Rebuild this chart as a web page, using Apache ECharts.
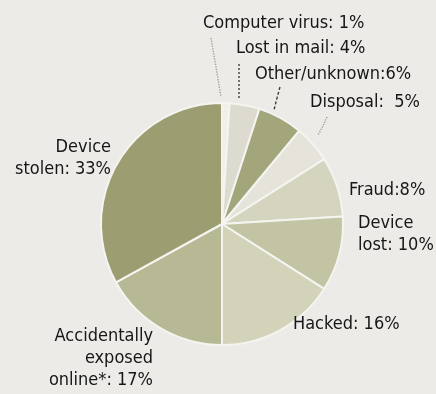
<!DOCTYPE html>
<html>
<head>
<meta charset="utf-8">
<script src="https://cdn.jsdelivr.net/npm/echarts@6/dist/echarts.min.js"></script>
<style>
html,body{margin:0;padding:0;background:#ecebe8;}
#chart{width:436px;height:394px;}
</style>
</head>
<body>
<div id="chart"></div>
<script>
// Data (clockwise from 12 o'clock)
var categories = ['Computer virus', 'Lost in mail', 'Other/unknown', 'Disposal', 'Fraud', 'Device\nlost', 'Hacked', 'Accidentally\nexposed\nonline*', 'Device\nstolen'];
var values = [1, 4, 6, 5, 8, 10, 16, 17, 33];
var separators = [': ', ': ', ':', ':  ', ':', ': ', ': ', ': ', ': '];

// Styling / layout (not data)
var colors = ['#f1efe9', '#dddbcf', '#a3a57b', '#e6e4da', '#d5d5bf', '#c3c4a3', '#d3d3b9', '#b6b994', '#9c9e72'];
var labelLayoutCfg = [
  {x: 203, y: 23, align: 'left', line: [[211, 38], [216, 67], [221, 97]], lineColor: '#9a9a9a', lineType: 'dotted'},
  {x: 236, y: 48, align: 'left', line: [[239, 64], [239, 80], [239, 99]], lineColor: '#333', lineType: [2, 2]},
  {x: 255, y: 74, align: 'left', line: [[280, 87], [277, 98], [274, 110]], lineColor: '#333', lineType: [3, 2]},
  {x: 310, y: 102, align: 'left', line: [[327, 117], [323, 126], [318, 135]], lineColor: '#9a9a9a', lineType: 'dotted'},
  {x: 349, y: 190, align: 'left'},
  {x: 358, y: 234, align: 'left'},
  {x: 293, y: 324, align: 'left'},
  {x: 153, y: 358, align: 'right'},
  {x: 111, y: 158, align: 'right'}
];

var seriesData = categories.map(function (c, i) {
  var cfg = labelLayoutCfg[i];
  return {
    name: c,
    value: values[i],
    itemStyle: {color: colors[i]},
    labelLine: cfg.line ? {show: true, lineStyle: {color: cfg.lineColor, type: cfg.lineType, width: 1.3}} : {show: false}
  };
});

var chart = echarts.init(document.getElementById('chart'), null, {renderer: 'canvas'});
chart.setOption({
  backgroundColor: '#ecebe8',
  animation: false,
  series: [{
    type: 'pie',
    center: [222, 224],
    radius: [0, 121],
    startAngle: 90,
    clockwise: true,
    avoidLabelOverlap: false,
    itemStyle: {borderColor: '#f5f4f0', borderWidth: 2},
    label: {
      show: true,
      position: 'outside',
      fontFamily: '"DejaVu Sans Condensed", "Liberation Sans Narrow", sans-serif',
      fontSize: 18,
      lineHeight: 22,
      color: '#161616',
      formatter: function (p) {
        return p.name + separators[p.dataIndex] + p.value + '%';
      }
    },
    labelLine: {show: true},
    labelLayout: function (params) {
      var cfg = labelLayoutCfg[params.dataIndex];
      var out = {x: cfg.x, y: cfg.y, align: cfg.align, verticalAlign: 'middle'};
      if (cfg.line) { out.labelLinePoints = cfg.line; }
      return out;
    },
    data: seriesData
  }]
});
</script>
</body>
</html>
